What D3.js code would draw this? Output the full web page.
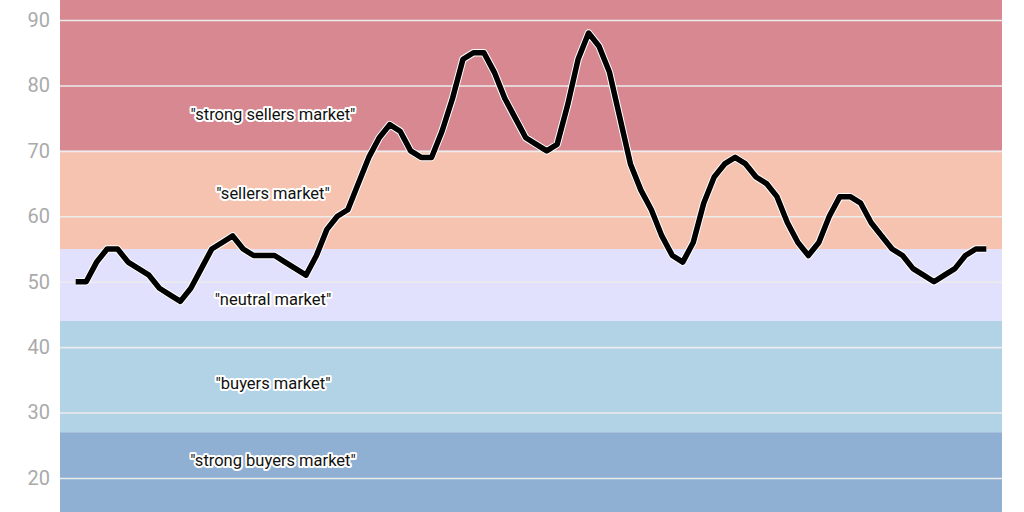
<!DOCTYPE html>
<html>
<head>
<meta charset="utf-8">
<script src="https://cdn.jsdelivr.net/npm/d3@7"></script>
<style>
  html, body { margin: 0; padding: 0; background: #fff; }
  svg { display: block; font-family: Roboto, "Noto Sans", sans-serif; }
</style>
</head>
<body>
<svg id="chart" width="1024" height="512"></svg>
<script>
// ---- data ----
const values = [50,50,53,55,55,53,52,51,49,48,47,49,52,55,56,57,55,54,54,54,53,52,51,54,58,60,61,65,69,72,74,73,70,69,69,73,78,84,85,85,82,78,75,72,71,70,71,77,84,88,86,82,75,68,64,61,57,54,53,56,62,66,68,69,68,66,65,63,59,56,54,56,60,63,63,62,59,57,55,54,52,51,50,51,52,54,55,55];
const bandNames = ["strong buyers market", "buyers market", "neutral market", "sellers market", "strong sellers market"];
const bandLows  = [0, 27, 44, 55, 70];
const bandHighs = [27, 44, 55, 70, 100];
const bandColors = ["#8fb0d3", "#b2d3e6", "#e2e1fd", "#f6c3b0", "#d78891"];
const labelValues = [21.8, 33.6, 46.5, 62.7, 74.7];
const yTicks = [20, 30, 40, 50, 60, 70, 80, 90];

// ---- layout ----
const W = 1024, H = 512;
const margin = { left: 60, right: 22 };
const svg = d3.select("#chart");

const x = d3.scalePoint()
  .domain(d3.range(values.length))
  .range([margin.left, W - margin.right])
  .padding(1.5);

const y = d3.scaleLinear().domain([20, 90]).range([478, 20]);

const clipId = "plotclip";
svg.append("clipPath").attr("id", clipId)
  .append("rect").attr("x", margin.left).attr("y", 0)
  .attr("width", W - margin.right - margin.left).attr("height", H);

const plot = svg.append("g").attr("clip-path", `url(#${clipId})`);

// bands
plot.selectAll("rect.band")
  .data(bandNames)
  .join("rect")
  .attr("class", "band")
  .attr("x", margin.left)
  .attr("width", W - margin.right - margin.left)
  .attr("y", (d, i) => y(bandHighs[i]))
  .attr("height", (d, i) => y(bandLows[i]) - y(bandHighs[i]))
  .attr("fill", (d, i) => bandColors[i]);

// grid lines
const yAxis = d3.axisLeft(y).tickValues(yTicks)
  .tickSize(-(W - margin.right - margin.left)).tickPadding(10);
const ga = svg.append("g").attr("transform", `translate(${margin.left},0)`).call(yAxis);
ga.select(".domain").remove();
ga.selectAll(".tick line").attr("stroke", "#ececec").attr("stroke-width", 1.6);
ga.selectAll(".tick text")
  .attr("fill", "#aaaaaa")
  .attr("font-size", 20)
  .attr("font-family", "Roboto, sans-serif");

// band labels
const labels = svg.append("g");
labels.selectAll("text")
  .data(bandNames)
  .join("text")
  .attr("x", 273)
  .attr("y", (d, i) => y(labelValues[i]))
  .attr("text-anchor", "middle")
  .attr("font-size", 16.5)
  .attr("paint-order", "stroke")
  .attr("stroke", "#ffffff")
  .attr("stroke-width", 4)
  .attr("stroke-linejoin", "round")
  .attr("fill", "#111")
  .text(d => `"${d}"`);

// line
const line = d3.line().x((d, i) => x(i)).y(d => y(d));
svg.append("path")
  .datum(values)
  .attr("d", line)
  .attr("fill", "none")
  .attr("stroke", "#ffffff")
  .attr("stroke-width", 7.5)
  .attr("stroke-linejoin", "round");
svg.append("path")
  .datum(values)
  .attr("d", line)
  .attr("fill", "none")
  .attr("stroke", "#000000")
  .attr("stroke-width", 5.5)
  .attr("stroke-linejoin", "round");
</script>
</body>
</html>
